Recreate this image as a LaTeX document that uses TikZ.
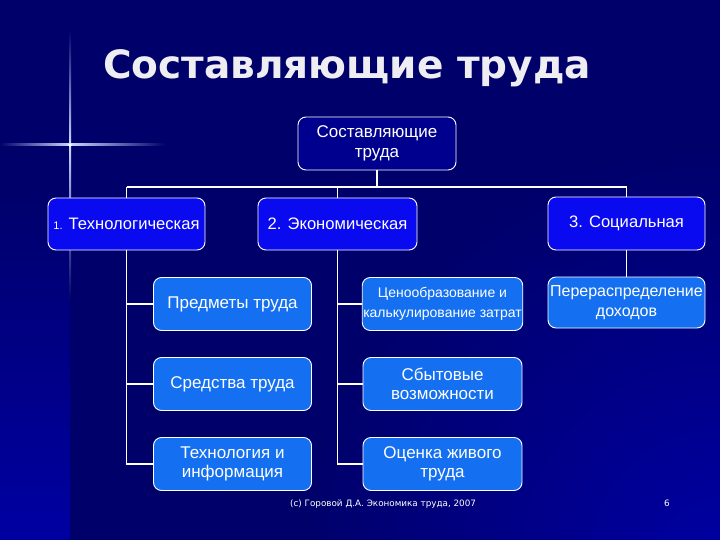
\documentclass[tikz,border=0pt]{standalone}
\usepackage{fontspec}
\setmainfont{Liberation Sans}
\newfontfamily\titlefont{DejaVu Sans}
\newfontfamily\footfont{DejaVu Sans}
\definecolor{bgnavy}{HTML}{00006A}
\definecolor{bgbright}{HTML}{0000A2}
\definecolor{topfill}{HTML}{00008E}
\definecolor{lvlone}{HTML}{0A0AF0}
\definecolor{lvltwo}{HTML}{1470F0}
\definecolor{titlegray}{HTML}{EEEEF2}
\definecolor{glow}{HTML}{C8D8FF}
\tikzset{
  box/.style={draw=white, line width=0.9pt, rounded corners=8pt, text=white,
    align=center, inner sep=1pt, font=\fontsize{17}{19.5}\selectfont},
  topbox/.style={box, fill=topfill, minimum width=158pt, minimum height=53pt},
  onebox/.style={box, fill=lvlone, minimum width=157pt, minimum height=52pt, font=\fontsize{16.6}{19.5}\selectfont},
  twobox/.style={box, fill=lvltwo, minimum width=158pt, minimum height=53pt},
  wire/.style={draw=white, line width=1.6pt},
}
\begin{document}
\begin{tikzpicture}[x=1pt,y=-1pt]
\useasboundingbox (0,0) rectangle (720,540);
% background
\fill[bgnavy] (0,0) rectangle (720,540);
\begin{scope}
\clip (0,0) rectangle (720,540);
\shade[inner color=bgbright, outer color=bgnavy] (720,560) circle (420);
\shade[top color=bgnavy, bottom color=bgbright] (0,180) rectangle (70,540);
% glow star
\shade[left color=bgnavy, right color=glow] (0,144) rectangle (70,146);
\shade[left color=glow, right color=bgnavy] (70,144) rectangle (165,146);
\shade[top color=bgnavy, bottom color=glow] (69,30) rectangle (71,145);
\shade[top color=glow, bottom color=bgnavy] (69,145) rectangle (71,300);
\fill[white] (70,145) circle (1.8);
\end{scope}
% title
\node[anchor=base west, inner sep=0pt, text=titlegray,
  font=\titlefont\bfseries\fontsize{39}{40}\selectfont] (title) at (103,79) {Составляющие труда};
% nodes
\node[topbox] (top) at (377,143.5) {Составляющие\\труда};
\node[onebox] (tech) at (126.5,224) {{\fontsize{11}{12}\selectfont 1.} Технологическая};
\node[onebox, minimum width=159pt] (econ) at (337.5,224) {2. Экономическая};
\node[onebox, minimum height=53pt] (soc) at (626.5,223.5) {3. Социальная};
\node[twobox] (p1) at (232.5,304) {Предметы труда};
\node[twobox] (p2) at (232.5,384) {Средства труда};
\node[twobox] (p3) at (232.5,464) {Технология и\\информация};
\node[twobox, minimum width=159pt, font=\fontsize{14}{19.5}\selectfont] (e1) at (442.5,304) {Ценообразование и\\калькулирование затрат};
\node[twobox, minimum width=159pt] (e2) at (442.5,384) {Сбытовые\\возможности};
\node[twobox, minimum width=159pt] (e3) at (442.5,464) {Оценка живого\\труда};
\node[twobox, minimum width=157pt, minimum height=51pt, font=\fontsize{16}{19.5}\selectfont] (s1) at (626.5,302.5) {Перераспределение\\доходов};
% connectors
\coordinate (busL) at (126.5,187);
\coordinate (busR) at (626.5,187);
\draw[wire] (busL) -- (busR);
\draw[wire] (top.south) -- (top.south |- busL);
\draw[wire] (tech.north) -- (tech.north |- busL);
\draw[wire] (econ.north) -- (econ.north |- busL);
\draw[wire] (soc.north) -- (soc.north |- busL);
\draw[wire] (tech.south) -- (tech.south |- p3.west) -- (p3.west);
\draw[wire] (tech.south |- p1.west) -- (p1.west);
\draw[wire] (tech.south |- p2.west) -- (p2.west);
\draw[wire] (econ.south) -- (econ.south |- e3.west) -- (e3.west);
\draw[wire] (econ.south |- e1.west) -- (e1.west);
\draw[wire] (econ.south |- e2.west) -- (e2.west);
\draw[wire] (soc.south) -- (s1.north);
% footer
\node[anchor=base west, inner sep=0pt, text=white, font=\footfont\fontsize{8.8}{10}\selectfont] (foot) at (290,506) {(c) Горовой Д.А. Экономика труда, 2007};
\node[anchor=base, inner sep=0pt, text=white, font=\footfont\fontsize{8.8}{10}\selectfont] (pnum) at (667,506) {6};
\end{tikzpicture}
\end{document}
